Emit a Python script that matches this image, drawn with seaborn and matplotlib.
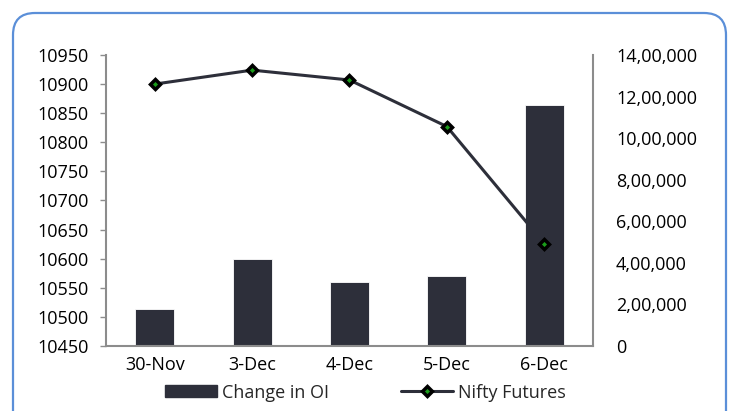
import matplotlib
matplotlib.use("Agg")
import matplotlib.pyplot as plt
from matplotlib.patches import FancyBboxPatch, Patch
from matplotlib.lines import Line2D
import seaborn as sns

dates = ["30-Nov", "3-Dec", "4-Dec", "5-Dec", "6-Dec"]
change_in_oi = [179000, 418000, 308000, 338000, 1161000]
nifty_futures = [10900, 10924, 10907, 10827, 10626]

left_ticks = list(range(10450, 10951, 50))
right_ticks = [0, 200000, 400000, 600000, 800000, 1000000, 1200000, 1400000]
right_labels = ["0", "2,00,000", "4,00,000", "6,00,000", "8,00,000",
                "10,00,000", "12,00,000", "14,00,000"]

dark = "#2d2f3a"
axis_grey = "#8c8c8c"
fs = 13

sns.set_style("white")
plt.rcParams["font.family"] = ["Open Sans", "DejaVu Sans"]

fig = plt.figure(figsize=(7.35, 4.11), dpi=100)
ax = fig.add_axes([0.1442, 0.1582, 0.6626, 0.708])
ax2 = ax.twinx()

sns.barplot(x=dates, y=change_in_oi, ax=ax2, color=dark, width=0.4,
            saturation=1, edgecolor="white", linewidth=0.6)
sns.pointplot(x=dates, y=nifty_futures, ax=ax, color=dark, markers="D",
              linewidth=2.2, markersize=5, markerfacecolor="#1a9c1a",
              markeredgecolor="black", markeredgewidth=2.5, errorbar=None)

ax.set_zorder(ax2.get_zorder() + 1)
ax.patch.set_visible(False)

ax.set_xlim(-0.5, 4.5)
ax.set_ylim(10450, 10950)
ax.set_yticks(left_ticks)
ax.set_yticklabels([str(t) for t in left_ticks])
ax2.set_ylim(0, 1400000)
ax2.set_yticks(right_ticks)
ax2.set_yticklabels(right_labels)
ax.set_xlabel("")
ax.set_ylabel("")
ax2.set_ylabel("")

for a in (ax, ax2):
    for s in a.spines.values():
        s.set_visible(False)
ax.spines["left"].set_visible(True)
ax.spines["left"].set_color(axis_grey)
ax.spines["left"].set_linewidth(1.5)
ax.spines["bottom"].set_visible(True)
ax.spines["bottom"].set_color(axis_grey)
ax.spines["bottom"].set_linewidth(1.5)
ax2.spines["right"].set_visible(True)
ax2.spines["right"].set_color(axis_grey)
ax2.spines["right"].set_linewidth(1.5)

ax.tick_params(axis="y", left=True, length=4.5, width=1, color=axis_grey,
               labelsize=fs, labelcolor="black", pad=8)
ax.tick_params(axis="x", bottom=False, labelsize=fs, labelcolor="black", pad=4)
ax2.tick_params(axis="y", right=False, labelsize=fs, labelcolor="black", pad=13)
ax2.tick_params(axis="x", bottom=False, labelbottom=False)

handles = [Patch(facecolor=dark, edgecolor=dark),
           Line2D([], [], color=dark, linewidth=2.2, marker="D", markersize=5,
                  markerfacecolor="#1a9c1a", markeredgecolor="black",
                  markeredgewidth=2.5)]
fig.legend(handles, ["Change in OI", "Nifty Futures"], loc="center",
           bbox_to_anchor=(0.497, 0.045), ncol=2, frameon=False, fontsize=fs,
           handlelength=2.9, handleheight=0.6, columnspacing=4.0, handletextpad=0.25)

border = FancyBboxPatch((13, -30), 713, 428,
                        boxstyle="round,pad=0,rounding_size=22",
                        transform=None, facecolor="none",
                        edgecolor="#5b8fd8", linewidth=1.6, clip_on=False)
fig.patches.append(border)

fig.savefig("out.png", dpi=100)
